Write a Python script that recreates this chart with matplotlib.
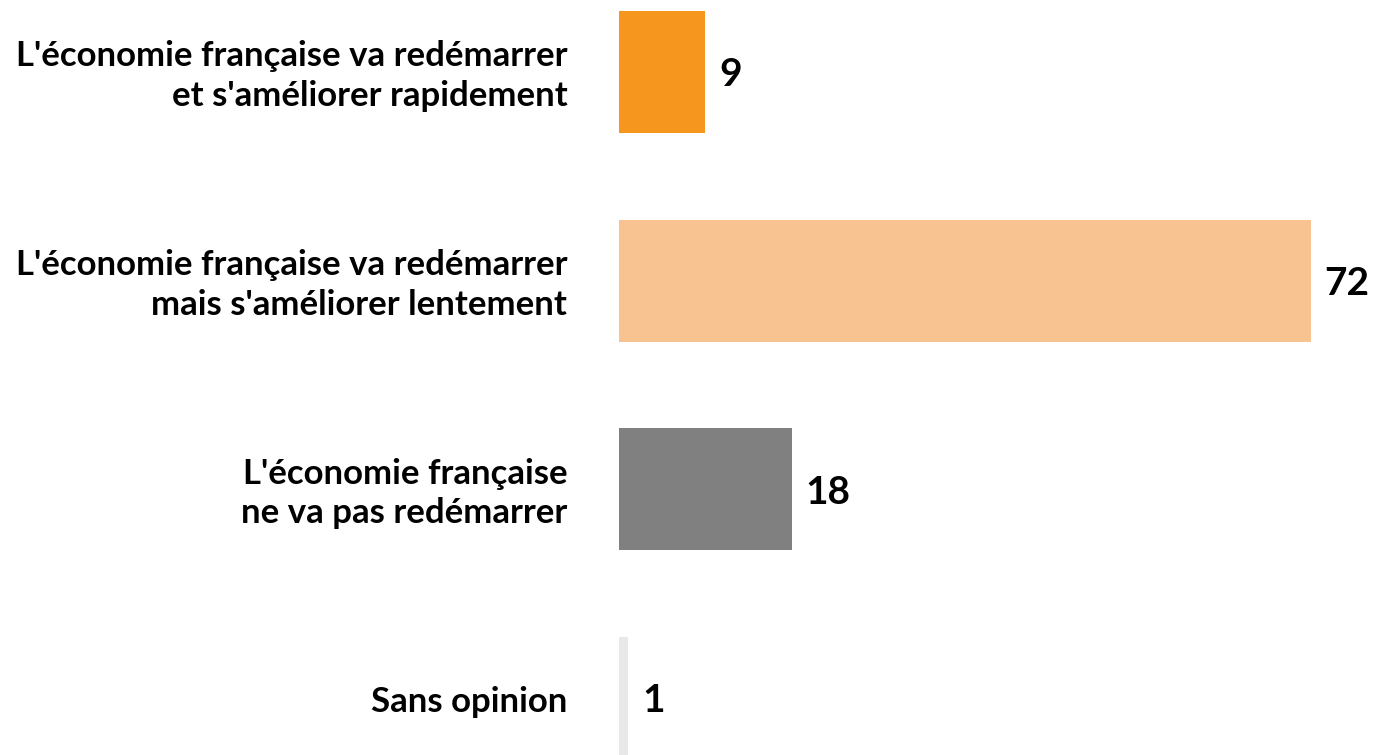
import matplotlib
matplotlib.use("Agg")
import matplotlib.pyplot as plt

categories = [
    "L'économie française va redémarrer\net s'améliorer rapidement",
    "L'économie française va redémarrer\nmais s'améliorer lentement",
    "L'économie française\nne va pas redémarrer",
    "Sans opinion",
]
values = [9, 72, 18, 1]
colors = ["#F7961E", "#F9C391", "#808080", "#E8E8E8"]

plt.rcParams["font.family"] = ["Lato", "DejaVu Sans"]

fig = plt.figure(figsize=(13.75, 7.55), dpi=100)
ax = fig.add_axes([0.45, 0.0, 0.55, 1.0])

ypos = list(range(len(values)))
ax.barh(ypos, values, height=0.585, color=colors)

ax.set_xlim(0, 78.7)
ax.set_ylim(3.273, -0.345)

for y, v, label in zip(ypos, values, categories):
    ax.annotate(str(v), xy=(v, y), xytext=(10, -2), textcoords="offset points",
                ha="left", va="center", fontsize=28, fontweight="bold", color="black")
    ax.annotate(label, xy=(0, y), xytext=(-37, -3), textcoords="offset points",
                ha="right", va="center", fontsize=25, fontweight="bold",
                color="black", multialignment="right", linespacing=1.3,
                annotation_clip=False)

ax.axis("off")
fig.savefig("out.png", dpi=100)
